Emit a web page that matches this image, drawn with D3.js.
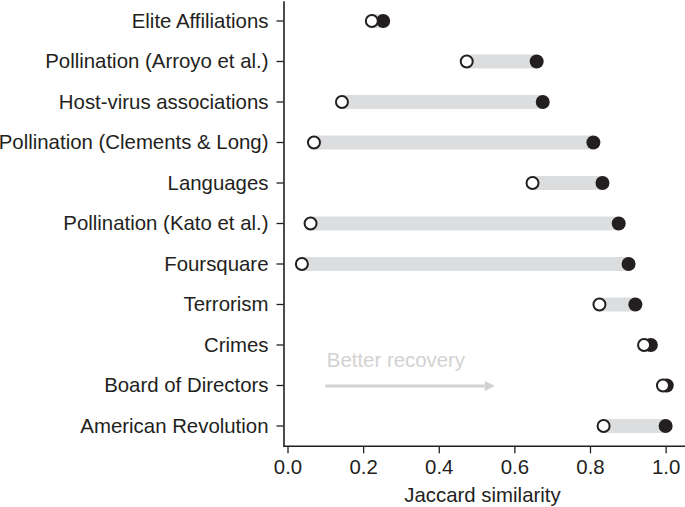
<!DOCTYPE html>
<html>
<head>
<meta charset="utf-8">
<script src="https://cdn.jsdelivr.net/npm/d3@7"></script>
<style>
  html, body { margin: 0; padding: 0; background: #fff; }
  svg { display: block; font-family: "Liberation Sans", Arial, Helvetica, sans-serif; }
</style>
</head>
<body>
<svg id="chart" width="685" height="507"></svg>
<script>
const categories = [
  "Elite Affiliations",
  "Pollination (Arroyo et al.)",
  "Host-virus associations",
  "Pollination (Clements & Long)",
  "Languages",
  "Pollination (Kato et al.)",
  "Foursquare",
  "Terrorism",
  "Crimes",
  "Board of Directors",
  "American Revolution"
];
const openValues   = [0.223, 0.474, 0.144, 0.070, 0.648, 0.061, 0.038, 0.825, 0.943, 0.993, 0.836];
const filledValues = [0.253, 0.659, 0.675, 0.809, 0.833, 0.876, 0.902, 0.920, 0.961, 1.003, 1.000];
const xTicks = [0, 0.2, 0.4, 0.6, 0.8, 1.0];
const xLabel = "Jaccard similarity";
const annotation = "Better recovery";
const arrowFrom = 0.1, arrowTo = 0.548;

const svg = d3.select("#chart");
const plotLeft = 283.5, plotBottom = 446.25, plotTop = 0.75;

const x = d3.scaleLinear().domain([-0.0106, 1.042]).range([plotLeft, 681.5]);
const y = d3.scaleBand().domain(categories).range([plotTop, plotBottom]).paddingInner(0).paddingOuter(0);
const yc = d => y(d) + y.bandwidth() / 2;

const textColor = "#231f20";
const fontSize = 20.4;

// Annotation
svg.append("text")
  .attr("x", x(arrowFrom) + 1.5)
  .attr("y", 366.5)
  .attr("fill", "#d2d2d2")
  .attr("font-size", fontSize)
  .text(annotation);

const arrowY = 386;
const defs = svg.append("defs");
defs.append("marker")
  .attr("id", "arrowhead")
  .attr("viewBox", "0 0 10 10")
  .attr("refX", 0).attr("refY", 5)
  .attr("markerWidth", 3.6).attr("markerHeight", 3.4)
  .attr("markerUnits", "strokeWidth")
  .attr("orient", "auto")
  .append("path").attr("d", "M0,0 L10,5 L0,10 Z").attr("fill", "#d2d2d2");
svg.append("line")
  .attr("x1", x(arrowFrom)).attr("x2", x(arrowTo) - 10)
  .attr("y1", arrowY).attr("y2", arrowY)
  .attr("stroke", "#d2d2d2").attr("stroke-width", 3)
  .attr("marker-end", "url(#arrowhead)");

// Bars
const g = svg.append("g");
g.selectAll("rect.bar").data(categories).join("rect")
  .attr("class", "bar")
  .attr("x", (d, i) => x(Math.min(openValues[i], filledValues[i])))
  .attr("width", (d, i) => Math.abs(x(filledValues[i]) - x(openValues[i])))
  .attr("y", d => yc(d) - 7)
  .attr("height", 14)
  .attr("fill", "#dcdddf");

// Filled points
g.selectAll("circle.filled").data(categories).join("circle")
  .attr("class", "filled")
  .attr("cx", (d, i) => x(filledValues[i]))
  .attr("cy", d => yc(d))
  .attr("r", 7)
  .attr("fill", "#231f20");

// Open points
g.selectAll("circle.open").data(categories).join("circle")
  .attr("class", "open")
  .attr("cx", (d, i) => x(openValues[i]))
  .attr("cy", d => yc(d))
  .attr("r", 6)
  .attr("fill", "#fff")
  .attr("stroke", "#231f20")
  .attr("stroke-width", 2);

// Y axis
const yAxis = svg.append("g")
  .attr("transform", `translate(${plotLeft},0)`)
  .call(d3.axisLeft(y).tickSize(7).tickPadding(8).tickSizeOuter(0));
yAxis.select(".domain").attr("stroke", textColor).attr("stroke-width", 1.6);
yAxis.selectAll(".tick line").attr("stroke", textColor).attr("stroke-width", 1.3);
yAxis.selectAll(".tick text").attr("fill", textColor).attr("font-size", fontSize)
  .attr("font-family", "Liberation Sans, Arial, sans-serif");

// X axis
const xAxis = svg.append("g")
  .attr("transform", `translate(0,${plotBottom})`)
  .call(d3.axisBottom(x).tickValues(xTicks).tickFormat(d3.format(".1f")).tickSize(7).tickPadding(6).tickSizeOuter(0));
xAxis.select(".domain").attr("stroke", textColor).attr("stroke-width", 1.6)
  .attr("d", `M${plotLeft},0H685`);
xAxis.selectAll(".tick line").attr("stroke", textColor).attr("stroke-width", 1.3);
xAxis.selectAll(".tick text").attr("fill", textColor).attr("font-size", fontSize)
  .attr("font-family", "Liberation Sans, Arial, sans-serif");

svg.append("text")
  .attr("x", (plotLeft + 681.5) / 2)
  .attr("y", 501.5)
  .attr("text-anchor", "middle")
  .attr("fill", textColor)
  .attr("font-size", fontSize)
  .text(xLabel);
</script>
</body>
</html>
